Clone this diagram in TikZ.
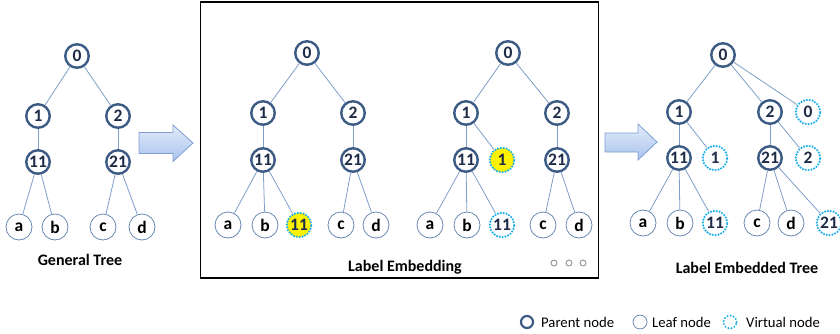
\documentclass[tikz,border=0pt]{standalone}
\usepackage{fontspec}
\setmainfont{Carlito}
\definecolor{parentcol}{HTML}{3B5A84}
\definecolor{leafcol}{HTML}{6A88B4}
\definecolor{virtcol}{HTML}{1EB0EA}
\definecolor{edgecol}{HTML}{7F9DC9}
\definecolor{numcol}{HTML}{1E2C48}
\definecolor{arrowtop}{HTML}{E2ECFA}
\definecolor{arrowbot}{HTML}{A9C3EC}
\definecolor{arrowline}{HTML}{7E9ED4}
\tikzset{
  nodebase/.style={circle, inner sep=0pt, fill=white,
    font=\bfseries\fontsize{17.5}{17.5}\selectfont},
  parent/.style={nodebase, draw=parentcol, line width=2.4pt, minimum size=23.5pt, text=numcol},
  leaf/.style={nodebase, draw=leafcol, line width=0.8pt, minimum size=26pt, text=black},
  virt/.style={nodebase, draw=virtcol, line width=2.4pt, dash pattern=on 0pt off 2.9pt,
    line cap=round, minimum size=24.5pt, text=numcol},
  virthl/.style={virt, fill=yellow},
  edge/.style={draw=edgecol, line width=0.8pt},
  title/.style={font=\bfseries\fontsize{16}{18}\selectfont},
  legend/.style={font=\fontsize{14.7}{17}\selectfont, anchor=west, inner sep=0pt},
  bigarrow/.style={draw=arrowline, line width=0.8pt, top color=arrowtop, bottom color=arrowbot},
  dotmark/.style={circle, draw=gray!80, line width=1pt, fill=white, minimum size=6pt, inner sep=0pt}
}
\begin{document}
\begin{tikzpicture}[x=1pt, y=-1pt]
\useasboundingbox (0,0) rectangle (840,333);

% ---------- general tree ----------
\node[parent] (g0)  at (77,56)  {0};
\node[parent] (g1)  at (38,116) {1};
\node[parent] (g2)  at (118,116) {2};
\node[parent] (g11) at (38,162) {11};
\node[parent] (g21) at (118,162) {21};
\node[leaf]   (ga)  at (19,227) {a};
\node[leaf]   (gb)  at (55,227) {b};
\node[leaf]   (gc)  at (103,227) {c};
\node[leaf]   (gd)  at (142,227) {d};
\draw[edge] (g0) -- (g1);  \draw[edge] (g0) -- (g2);
\draw[edge] (g1) -- (g11); \draw[edge] (g2) -- (g21);
\draw[edge] (g11) -- (ga); \draw[edge] (g11) -- (gb);
\draw[edge] (g21) -- (gc); \draw[edge] (g21) -- (gd);
\node[title] (gtitle) at (80,260) {General Tree};

% ---------- first arrow ----------
\draw[bigarrow] (139,132.5) -- (173,132.5) -- (173,125) -- (193,143) -- (173,161.5)
  -- (173,153.5) -- (139,153.5) -- cycle;

% ---------- label embedding frame ----------
\node[draw=black, line width=1.6pt, minimum width=398pt, minimum height=276pt,
  inner sep=0pt] (frame) at (399.5,140) {};

% step one
\node[parent] (m0)  at (307,53)  {0};
\node[parent] (m1)  at (263,113) {1};
\node[parent] (m2)  at (353,113) {2};
\node[parent] (m11) at (263,160) {11};
\node[parent] (m21) at (353,160) {21};
\node[leaf]   (ma)  at (228,225) {a};
\node[leaf]   (mb)  at (265,225) {b};
\node[virthl] (mv)  at (299,225) {11};
\node[leaf]   (mc)  at (341,225) {c};
\node[leaf]   (md)  at (376,225) {d};
\draw[edge] (m0) -- (m1);  \draw[edge] (m0) -- (m2);
\draw[edge] (m1) -- (m11); \draw[edge] (m2) -- (m21);
\draw[edge] (m11) -- (ma); \draw[edge] (m11) -- (mb); \draw[edge] (m11) -- (mv);
\draw[edge] (m21) -- (mc); \draw[edge] (m21) -- (md);

% step two
\node[parent] (n0)  at (508,53)  {0};
\node[parent] (n1)  at (466,113) {1};
\node[parent] (n2)  at (557,113) {2};
\node[parent] (n11) at (466,160) {11};
\node[virthl] (nv1) at (502,160) {1};
\node[parent] (n21) at (557,160) {21};
\node[leaf]   (na)  at (430,225) {a};
\node[leaf]   (nb)  at (467,225) {b};
\node[virt]   (nv)  at (502,225) {11};
\node[leaf]   (nc)  at (543,225) {c};
\node[leaf]   (nd)  at (579,225) {d};
\draw[edge] (n0) -- (n1);  \draw[edge] (n0) -- (n2);
\draw[edge] (n1) -- (n11); \draw[edge] (n1) -- (nv1); \draw[edge] (n2) -- (n21);
\draw[edge] (n11) -- (na); \draw[edge] (n11) -- (nb); \draw[edge] (n11) -- (nv);
\draw[edge] (n21) -- (nc); \draw[edge] (n21) -- (nd);

\node[title] (mtitle) at (405,267) {Label Embedding};
\node[dotmark] (dot1) at (554,263) {};
\node[dotmark] (dot2) at (569,263) {};
\node[dotmark] (dot3) at (583,263) {};

% ---------- second arrow ----------
\draw[bigarrow] (605,133) -- (638,133) -- (638,124) -- (657,142) -- (638,160)
  -- (638,152) -- (605,152) -- cycle;

% ---------- label embedded tree ----------
\node[parent] (r0)  at (723,55)  {0};
\node[parent] (r1)  at (679,112) {1};
\node[parent] (r2)  at (770,112) {2};
\node[virt]   (rv0) at (808,112) {0};
\node[parent] (r11) at (679,158) {11};
\node[virt]   (rv1) at (715,158) {1};
\node[parent] (r21) at (770,158) {21};
\node[virt]   (rv2) at (808,158) {2};
\node[leaf]   (ra)  at (643,223) {a};
\node[leaf]   (rb)  at (680,223) {b};
\node[virt]   (rv11) at (715,223) {11};
\node[leaf]   (rc)  at (757,223) {c};
\node[leaf]   (rd)  at (791,223) {d};
\node[virt]   (rv21) at (829,223) {21};
\draw[edge] (r0) -- (r1);  \draw[edge] (r0) -- (r2); \draw[edge] (r0) -- (rv0);
\draw[edge] (r1) -- (r11); \draw[edge] (r1) -- (rv1);
\draw[edge] (r2) -- (r21); \draw[edge] (r2) -- (rv2);
\draw[edge] (r11) -- (ra); \draw[edge] (r11) -- (rb); \draw[edge] (r11) -- (rv11);
\draw[edge] (r21) -- (rc); \draw[edge] (r21) -- (rd); \draw[edge] (r21) -- (rv21);
\node[title] (rtitle) at (747,268) {Label Embedded Tree};

% ---------- legend ----------
\node[circle, draw=parentcol, line width=2.2pt, minimum size=12pt, inner sep=0pt] (lp) at (527,322) {};
\node[legend] (lpt) at (541,322) {Parent node};
\node[circle, draw=leafcol, line width=0.8pt, minimum size=14pt, inner sep=0pt] (ll) at (640,322) {};
\node[legend] (llt) at (652,322) {Leaf node};
\node[circle, draw=virtcol, line width=2.2pt, dash pattern=on 0pt off 3.2pt, line cap=round,
  minimum size=13pt, inner sep=0pt] (lv) at (730,322) {};
\node[legend] (lvt) at (746,322) {Virtual node};
\end{tikzpicture}
\end{document}
